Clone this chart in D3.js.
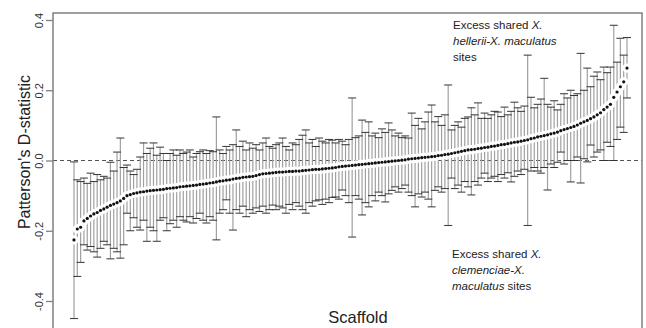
<!DOCTYPE html>
<html>
<head>
<meta charset="utf-8">
<script src="https://cdn.jsdelivr.net/npm/d3@7"></script>
<style>
  body { margin: 0; background: #fff; }
  svg { display: block; font-family: "Liberation Sans", Arial, sans-serif; }
</style>
</head>
<body>
<div id="chart"></div>
<script>
// point estimates of D per scaffold, sorted
const dStat = [
  -0.226, -0.195, -0.19, -0.172, -0.165, -0.158, -0.152, -0.148, -0.142, -0.138,
  -0.133, -0.128, -0.124, -0.12, -0.115, -0.108, -0.1, -0.097, -0.094, -0.092,
  -0.09, -0.089, -0.087, -0.086, -0.085, -0.084, -0.083, -0.082, -0.08, -0.079,
  -0.078, -0.077, -0.075, -0.074, -0.073, -0.072, -0.071, -0.07, -0.068, -0.067,
  -0.066, -0.064, -0.063, -0.061, -0.059, -0.058, -0.056, -0.055, -0.053, -0.051,
  -0.05, -0.048, -0.047, -0.046, -0.045, -0.043, -0.04, -0.038, -0.037, -0.036,
  -0.035, -0.034, -0.033, -0.033, -0.032, -0.031, -0.031, -0.03, -0.03, -0.029,
  -0.028, -0.027, -0.026, -0.025, -0.025, -0.024, -0.023, -0.022, -0.021, -0.02,
  -0.018, -0.017, -0.016, -0.015, -0.014, -0.013, -0.012, -0.011, -0.01, -0.009,
  -0.008, -0.007, -0.006, -0.005, -0.004, -0.003, -0.002, -0.001, 0.0, 0.001,
  0.002, 0.004, 0.005, 0.006, 0.007, 0.008, 0.009, 0.01, 0.011, 0.012,
  0.014, 0.015, 0.017, 0.018, 0.02, 0.022, 0.024, 0.026, 0.028, 0.03,
  0.031, 0.032, 0.034, 0.035, 0.037, 0.038, 0.04, 0.041, 0.043, 0.045,
  0.046, 0.048, 0.05, 0.052, 0.053, 0.055, 0.057, 0.059, 0.062, 0.064,
  0.067, 0.069, 0.071, 0.073, 0.076, 0.078, 0.081, 0.085, 0.088, 0.091,
  0.094, 0.097, 0.101, 0.106, 0.11, 0.114, 0.119, 0.124, 0.13, 0.136,
  0.145, 0.152, 0.16, 0.18, 0.195, 0.21, 0.224, 0.263
];

// upper ends of the error bars
const upper = [
  -0.004, -0.055, -0.06, -0.05, -0.065, -0.036, -0.06, -0.04, -0.055, -0.045,
  -0.05, -0.005, -0.03, 0.024, 0.064, -0.02, -0.013, -0.03, -0.04, -0.025,
  0.01, 0.05, 0.02, 0.035, 0.05, 0.015, 0.038, 0.02, 0.0, 0.02,
  0.03, 0.015, 0.03, 0.02, 0.024, 0.03, 0.01, 0.02, 0.025, 0.03,
  0.02, 0.028, 0.025, 0.124, 0.03, 0.02, 0.04, 0.03, 0.045, 0.087,
  0.04, 0.055, 0.03, 0.05, 0.035, 0.045, 0.03, 0.05, 0.064, 0.04,
  0.035, 0.045, 0.05, 0.064, 0.04, 0.03, 0.05, 0.045, 0.06, 0.072,
  0.087, 0.05, 0.06, 0.04, 0.064, 0.055, 0.05, 0.06, 0.058, 0.05,
  0.06, 0.055, 0.045, 0.06, 0.178, 0.065, 0.07, 0.115, 0.08, 0.11,
  0.07, 0.078, 0.065, 0.09, 0.08, 0.107, 0.087, 0.07, 0.078, 0.065,
  0.07, 0.064, 0.135, 0.1, 0.12, 0.09, 0.11, 0.138, 0.158, 0.11,
  0.125, 0.1, 0.13, 0.215, 0.087, 0.1, 0.11, 0.095, 0.12, 0.124,
  0.15, 0.13, 0.164, 0.12, 0.135, 0.12, 0.13, 0.14, 0.138, 0.125,
  0.152, 0.13, 0.14, 0.166, 0.15, 0.14, 0.155, 0.3, 0.18, 0.15,
  0.16, 0.175, 0.234, 0.16, 0.152, 0.17, 0.144, 0.16, 0.19, 0.178,
  0.2, 0.185, 0.19, 0.305, 0.2, 0.263, 0.21, 0.24, 0.252, 0.23,
  0.266, 0.25, 0.266, 0.385, 0.28, 0.348, 0.3, 0.35
];

// lower ends of the error bars
const lower = [
  -0.45, -0.33, -0.29, -0.24, -0.255, -0.245, -0.26, -0.275, -0.25, -0.23,
  -0.24, -0.28, -0.25, -0.26, -0.278, -0.24, -0.15, -0.2, -0.163, -0.19,
  -0.198, -0.17, -0.23, -0.19, -0.2, -0.23, -0.17, -0.163, -0.2, -0.18,
  -0.17, -0.19, -0.16, -0.17, -0.175, -0.16, -0.178, -0.165, -0.15, -0.17,
  -0.178, -0.16, -0.17, -0.226, -0.15, -0.14, -0.112, -0.15, -0.198, -0.14,
  -0.15, -0.13, -0.16, -0.14, -0.15, -0.135, -0.145, -0.13, -0.15, -0.14,
  -0.127, -0.14, -0.13, -0.135, -0.15, -0.125, -0.14, -0.12, -0.13, -0.14,
  -0.15, -0.12, -0.13, -0.115, -0.112, -0.125, -0.11, -0.12, -0.105, -0.104,
  -0.11, -0.084, -0.1, -0.12, -0.218, -0.1, -0.11, -0.155, -0.12, -0.132,
  -0.1, -0.115, -0.09, -0.1, -0.118, -0.095, -0.085, -0.075, -0.09, -0.08,
  -0.07, -0.09, -0.1, -0.132, -0.095, -0.104, -0.09, -0.11, -0.132, -0.085,
  -0.075, -0.09, -0.08, -0.185, -0.05, -0.08, -0.07, -0.09, -0.06, -0.075,
  -0.098, -0.06, -0.07, -0.05, -0.036, -0.06, -0.05, -0.045, -0.06, -0.04,
  -0.05, -0.035, -0.061, -0.045, -0.03, -0.04, -0.025, -0.185, -0.03, -0.02,
  -0.03, -0.036, -0.02, -0.084, -0.01, -0.02, -0.005, 0.024, -0.01, 0.0,
  -0.061, 0.0, 0.01, -0.064, 0.005, -0.004, 0.044, 0.01, 0.024, 0.03,
  0.0, 0.052, 0.04, 0.0, 0.06, 0.095, 0.08, 0.178
];

const yTicks = [-0.4, -0.2, 0.0, 0.2, 0.4];
const xLabel = 'Scaffold';
const yLabel = "Patterson's D-statistic";

const width = 646;
const height = 328;
const box = { left: 53, right: 642, top: 13 };

const x = d3.scaleLinear()
  .domain([0, dStat.length - 1])
  .range([74, 627]);

const y = d3.scaleLinear()
  .domain([-0.4, 0.4])
  .range([301, 20]);

const svg = d3.select('#chart')
  .append('svg')
  .attr('width', width)
  .attr('height', height);

const rows = dStat.map((d, i) => ({ i: i, d: d, hi: upper[i], lo: lower[i] }));

// zero line
svg.append('line')
  .attr('x1', box.left).attr('x2', box.right)
  .attr('y1', y(0)).attr('y2', y(0))
  .style('stroke', '#555')
  .style('stroke-width', 1.2)
  .style('stroke-dasharray', '4,3');

// error bars
const bars = svg.append('g');
bars.selectAll('line.bar')
  .data(rows)
  .enter().append('line')
  .attr('class', 'bar')
  .attr('x1', d => x(d.i)).attr('x2', d => x(d.i))
  .attr('y1', d => y(d.hi)).attr('y2', d => y(d.lo))
  .style('stroke', '#a0a0a0')
  .style('stroke-width', 1.2);

bars.selectAll('line.capHi')
  .data(rows)
  .enter().append('line')
  .attr('class', 'capHi')
  .attr('x1', d => x(d.i) - 4).attr('x2', d => x(d.i) + 4)
  .attr('y1', d => y(d.hi)).attr('y2', d => y(d.hi))
  .style('stroke', '#333')
  .style('stroke-width', 1);

bars.selectAll('line.capLo')
  .data(rows)
  .enter().append('line')
  .attr('class', 'capLo')
  .attr('x1', d => x(d.i) - 4).attr('x2', d => x(d.i) + 4)
  .attr('y1', d => y(d.lo)).attr('y2', d => y(d.lo))
  .style('stroke', '#333')
  .style('stroke-width', 1);

// white halo under the points, then the points
svg.append('g')
  .selectAll('circle')
  .data(rows)
  .enter().append('circle')
  .attr('cx', d => x(d.i))
  .attr('cy', d => y(d.d))
  .attr('r', 4.6)
  .style('fill', '#fff');

svg.append('g')
  .selectAll('circle')
  .data(rows)
  .enter().append('circle')
  .attr('cx', d => x(d.i))
  .attr('cy', d => y(d.d))
  .attr('r', 1.6)
  .style('fill', '#111');

// frame (bottom is cut off in the original)
svg.append('path')
  .attr('d', `M${box.left},${height}V${box.top}H${box.right}V${height}`)
  .style('fill', 'none')
  .style('stroke', '#808080')
  .style('stroke-width', 1.5);

// y axis
const yAxis = svg.append('g')
  .attr('transform', `translate(${box.left},0)`)
  .call(d3.axisLeft(y).tickValues(yTicks).tickSize(7)
    .tickFormat(d => (d < 0 ? '-' : '') + Math.abs(d).toFixed(1)));

yAxis.select('.domain').remove();
yAxis.selectAll('.tick line').style('stroke', '#808080').style('stroke-width', 1.3);
yAxis.selectAll('.tick text')
  .attr('x', null).attr('dy', null)
  .attr('transform', 'translate(-10,0) rotate(-90)')
  .attr('text-anchor', 'middle')
  .style('font-size', '11px')
  .style('font-family', '"Liberation Sans", Arial, sans-serif')
  .style('fill', '#333');

// axis titles
svg.append('text')
  .attr('transform', `translate(30,${152}) rotate(-90)`)
  .attr('text-anchor', 'middle')
  .style('font-size', '16px')
  .style('fill', '#222')
  .text(yLabel);

svg.append('text')
  .attr('x', 358).attr('y', 323)
  .attr('text-anchor', 'middle')
  .style('font-size', '16.5px')
  .style('fill', '#222')
  .text(xLabel);

// annotations
function note(x0, y0, lines) {
  const t = svg.append('text')
    .attr('x', x0).attr('y', y0)
    .style('font-size', '11.5px')
    .style('fill', '#222');
  lines.forEach((parts, li) => {
    parts.forEach((p, pi) => {
      const s = t.append('tspan')
        .style('font-style', p[1] ? 'italic' : 'normal')
        .text(p[0]);
      if (pi === 0) s.attr('x', x0).attr('dy', li === 0 ? 0 : 16);
    });
  });
}

note(453, 29, [
  [['Excess shared ', false], ['X.', true]],
  [['hellerii-X. maculatus', true]],
  [['sites', false]]
]);

note(452, 258, [
  [['Excess shared ', false], ['X.', true]],
  [['clemenciae-X.', true]],
  [['maculatus', true], [' sites', false]]
]);
</script>
</body>
</html>
